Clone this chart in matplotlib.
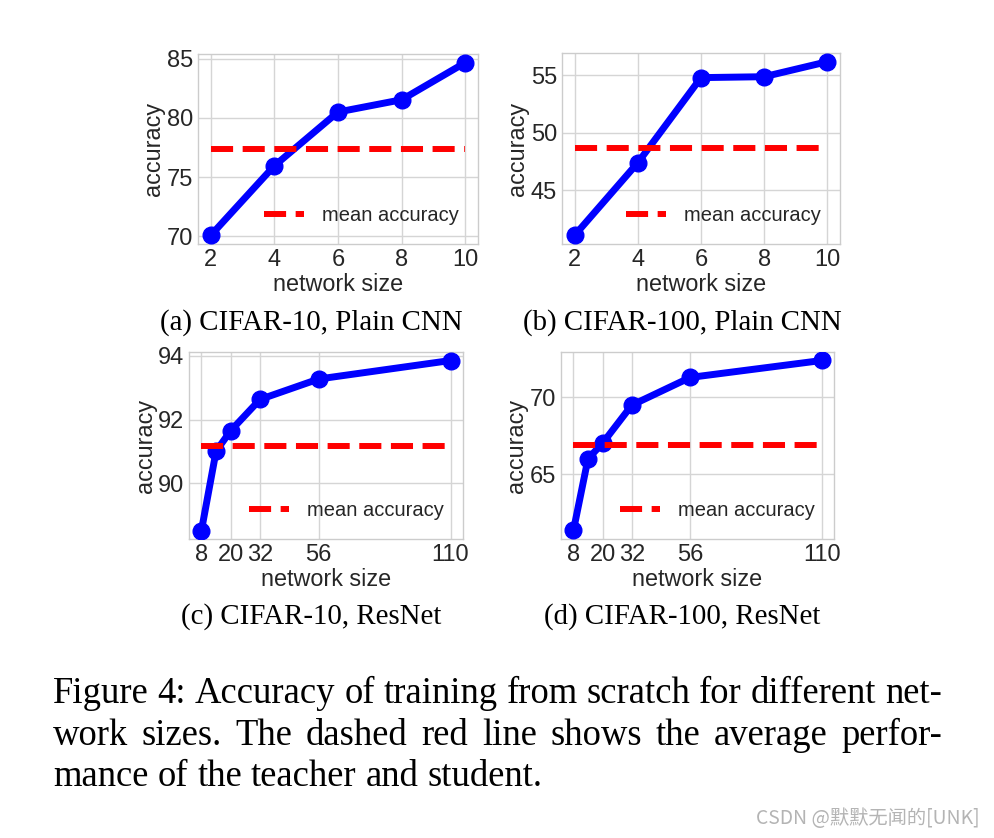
import matplotlib
matplotlib.use("Agg")
import matplotlib.pyplot as plt

# ---------------- data ----------------
plain_sizes = [2, 4, 6, 8, 10]
cifar10_plain = [70.06, 75.95, 80.5, 81.54, 84.68]
cifar100_plain = [41.05, 47.38, 54.8, 54.88, 56.19]
cifar10_plain_mean = 77.41
cifar100_plain_mean = 48.66

resnet_sizes = [8, 14, 20, 32, 56, 110]
resnet_ticks = [8, 20, 32, 56, 110]
cifar10_resnet = [88.52, 91.01, 91.65, 92.63, 93.27, 93.85]
cifar100_resnet = [61.34, 66.0, 67.01, 69.48, 71.28, 72.38]
cifar10_resnet_mean = 91.18
cifar100_resnet_mean = 66.86

yticks_a = [70, 75, 80, 85]
yticks_b = [45, 50, 55]
yticks_c = [90, 92, 94]
yticks_d = [65, 70]

captions = ["(a) CIFAR-10, Plain CNN", "(b) CIFAR-100, Plain CNN",
            "(c) CIFAR-10, ResNet", "(d) CIFAR-100, ResNet"]
caption_lines = [
    "Figure 4: Accuracy of training from scratch for different net-",
    "work sizes. The dashed red line shows the average perfor-",
    "mance of the teacher and student.",
]
watermark = "CSDN @默默无闻的[UNK]"

# ---------------- style ----------------
plt.style.use("seaborn-v0_8-whitegrid")
plt.rcParams["font.family"] = ["Liberation Sans", "DejaVu Sans"]

W, H = 994, 838
fig = plt.figure(figsize=(W / 100, H / 100), dpi=100)


def box(l, t, r, b):
    return [l / W, 1 - b / H, (r - l) / W, (b - t) / H]


panels = [
    (box(198, 54, 478, 244), plain_sizes, cifar10_plain, cifar10_plain_mean, plain_sizes, yticks_a),
    (box(562, 53, 840, 244), plain_sizes, cifar100_plain, cifar100_plain_mean, plain_sizes, yticks_b),
    (box(189, 352, 463, 539), resnet_sizes, cifar10_resnet, cifar10_resnet_mean, resnet_ticks, yticks_c),
    (box(561, 352, 834, 539), resnet_sizes, cifar100_resnet, cifar100_resnet_mean, resnet_ticks, yticks_d),
]

text_col = "#262626"
for rect, xs, ys, mean, xt, yt in panels:
    ax = fig.add_axes(rect)
    ax.plot(xs, ys, "-o", color="#0000ff", lw=5, ms=12, zorder=3)
    ax.plot([xs[0], xs[-1]], [mean, mean], "--", color="#ff0000", lw=4.3,
            label="mean accuracy", zorder=4)
    ax.set_xticks(xt)
    ax.set_yticks(yt)
    ax.tick_params(labelsize=17, colors=text_col, length=0, pad=3.5)
    ax.set_xlabel("network size", fontsize=16.8, color=text_col, labelpad=1.5)
    ax.set_ylabel("accuracy", fontsize=16.8, color=text_col, labelpad=1)
    for s in ax.spines.values():
        s.set_color("#cccccc")
        s.set_linewidth(1.0)
    ax.grid(True, color="#d5d5d5", lw=1.0)
    leg = ax.legend(loc="lower right", frameon=False, fontsize=14.5,
                    handlelength=2.0, handletextpad=0.9, borderaxespad=0.55)
    for t in leg.get_texts():
        t.set_color(text_col)

# panel captions
serif = ["Liberation Serif", "DejaVu Serif"]
cap_pos = [(311, 323), (682, 323), (311, 617), (682, 617)]
for txt, (cx, cy) in zip(captions, cap_pos):
    fig.text(cx / W, 1 - cy / H, txt, ha="center", va="center",
             fontsize=20.8, family=serif, color="black")

# justified figure caption
fig.canvas.draw()
renderer = fig.canvas.get_renderer()
left, right = 53, 942
baselines = [703, 745, 786]
fs = 26.4
for i, (line, yb) in enumerate(zip(caption_lines, baselines)):
    words = line.split(" ")
    objs = [fig.text(0, 1 - yb / H, w, ha="left", va="baseline",
                     fontsize=fs, family=serif, color="black") for w in words]
    widths = [o.get_window_extent(renderer).width for o in objs]
    if i < len(caption_lines) - 1:
        gap = (right - left - sum(widths)) / (len(words) - 1)
    else:
        sp = fig.text(0, 0, "a a", fontsize=fs, family=serif)
        sa = fig.text(0, 0, "aa", fontsize=fs, family=serif)
        gap = sp.get_window_extent(renderer).width - sa.get_window_extent(renderer).width
        sp.remove(); sa.remove()
    x = left
    for o, w in zip(objs, widths):
        o.set_x(x / W)
        x += w + gap

fig.text(980 / W, 1 - 818 / H, watermark, ha="right", va="center", fontsize=13.9,
         color="#b4b4b4", family=["Noto Sans CJK SC", "DejaVu Sans"])

fig.savefig("out.png", dpi=100, facecolor="white")
